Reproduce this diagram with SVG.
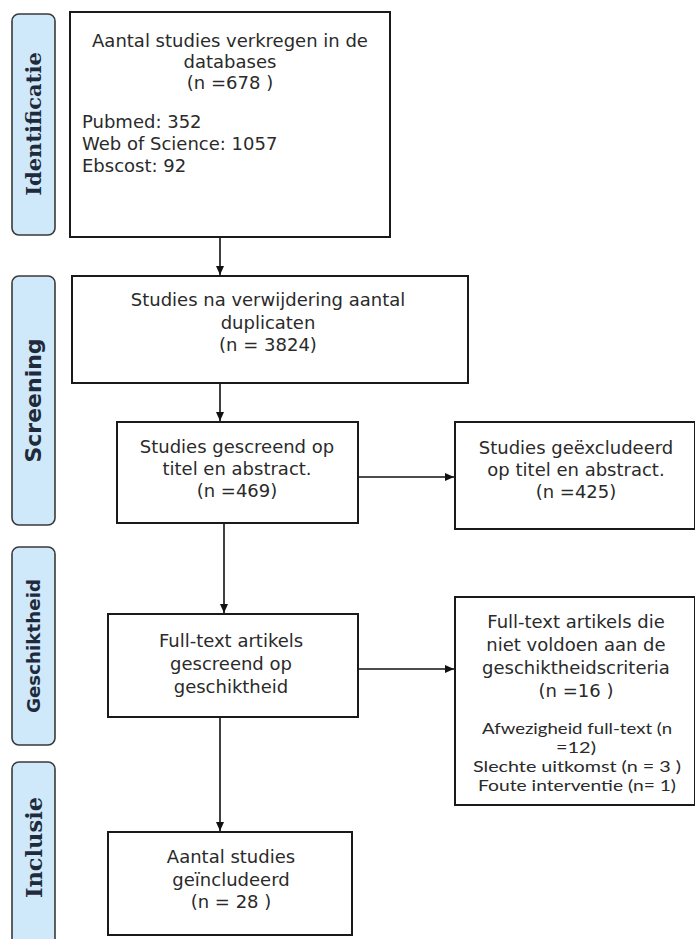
<svg xmlns="http://www.w3.org/2000/svg" width="695" height="939" viewBox="0 0 695 939">
<defs>
<marker id="ah" markerWidth="10" markerHeight="10" refX="9" refY="5" orient="auto" markerUnits="userSpaceOnUse">
<path d="M0,1 L9,5 L0,9 Z" fill="#111"/>
</marker>
<style>
.lbl{fill:#cfe8fa;stroke:#3a3a3a;stroke-width:1.6}
.box{fill:#fff;stroke:#1a1a1a;stroke-width:2}
.t{font-family:"DejaVu Sans",Verdana,sans-serif;font-size:18px;fill:#2a2a2a;text-anchor:middle}
.tl{font-family:"DejaVu Sans",Verdana,sans-serif;font-size:18px;fill:#2a2a2a}
.s{font-family:Lato,"Open Sans",sans-serif;font-size:16px;fill:#2a2a2a;text-anchor:middle}
.ser{font-family:"DejaVu Serif",serif;font-weight:bold;fill:#1f2a3a;text-anchor:middle}
.san{font-family:"DejaVu Sans",sans-serif;font-weight:bold;fill:#1f2a3a;text-anchor:middle}
.c{stroke:#111;stroke-width:1.6;fill:none;marker-end:url(#ah)}
</style>
</defs>
<rect width="695" height="939" fill="#fff"/>
<g id="lbl-identificatie">
<rect class="lbl" x="12" y="14" width="43" height="221" rx="7"/>
<text class="ser" font-size="21" transform="translate(41,124) rotate(-90)">Identificatie</text>
</g>
<g id="lbl-screening">
<rect class="lbl" x="12" y="276" width="43" height="249" rx="7"/>
<text class="san" font-size="22" transform="translate(41,400.5) rotate(-90)">Screening</text>
</g>
<g id="lbl-geschiktheid">
<rect class="lbl" x="12" y="547" width="43" height="198" rx="7"/>
<text class="san" font-size="18.3" transform="translate(39.5,646) rotate(-90)">Geschiktheid</text>
</g>
<g id="lbl-inclusie">
<rect class="lbl" x="12" y="762" width="43" height="185" rx="7"/>
<text class="ser" font-size="22.5" transform="translate(41.5,847.5) rotate(-90)">Inclusie</text>
</g>
<g id="n1">
<rect class="box" x="70" y="12" width="320" height="225"/>
<text class="t" x="230" y="47">Aantal studies verkregen in de</text>
<text class="t" x="230" y="68">databases</text>
<text class="t" x="230" y="89">(n =678 )</text>
<text class="tl" x="82" y="128">Pubmed: 352</text>
<text class="tl" x="82" y="150">Web of Science: 1057</text>
<text class="tl" x="82" y="172">Ebscost: 92</text>
</g>
<g id="n2">
<rect class="box" x="72" y="276" width="396" height="107"/>
<text class="t" x="268" y="306">Studies na verwijdering aantal</text>
<text class="t" x="268" y="329">duplicaten</text>
<text class="t" x="268" y="351">(n = 3824)</text>
</g>
<g id="n3">
<rect class="box" x="117" y="422" width="241" height="101"/>
<text class="t" x="237" y="453">Studies gescreend op</text>
<text class="t" x="237" y="475">titel en abstract.</text>
<text class="t" x="237" y="497">(n =469)</text>
</g>
<g id="n4">
<rect class="box" x="455" y="422" width="240" height="107"/>
<text class="t" x="576" y="454">Studies geëxcludeerd</text>
<text class="t" x="576" y="476">op titel en abstract.</text>
<text class="t" x="576" y="498">(n =425)</text>
</g>
<g id="n5">
<rect class="box" x="108" y="614" width="250" height="103"/>
<text class="t" x="231" y="647">Full-text artikels</text>
<text class="t" x="231" y="670">gescreend op</text>
<text class="t" x="231" y="693">geschiktheid</text>
</g>
<g id="n6">
<rect class="box" x="455" y="597" width="240" height="208"/>
<text class="t" x="576" y="628">Full-text artikels die</text>
<text class="t" x="576" y="651">niet voldoen aan de</text>
<text class="t" x="576" y="674">geschiktheidscriteria</text>
<text class="t" x="576" y="697">(n =16 )</text>
<text class="s" x="577" y="734" textLength="190" lengthAdjust="spacingAndGlyphs">Afwezigheid full-text (n</text>
<text class="s" x="576" y="753" textLength="40" lengthAdjust="spacingAndGlyphs">=12)</text>
<text class="s" x="577" y="772" textLength="208" lengthAdjust="spacingAndGlyphs">Slechte uitkomst (n = 3 )</text>
<text class="s" x="577" y="791" textLength="198" lengthAdjust="spacingAndGlyphs">Foute interventie (n= 1)</text>
</g>
<g id="n7">
<rect class="box" x="108" y="832" width="244" height="103"/>
<text class="t" x="231" y="863">Aantal studies</text>
<text class="t" x="231" y="886">geïncludeerd</text>
<text class="t" x="231" y="908">(n = 28 )</text>
</g>
<g id="connectors">
<line class="c" x1="220" y1="238" x2="220" y2="275"/>
<line class="c" x1="220" y1="384" x2="220" y2="421"/>
<line class="c" x1="224" y1="524" x2="224" y2="613"/>
<line class="c" x1="220" y1="718" x2="220" y2="831"/>
<line class="c" x1="359" y1="477" x2="454" y2="477"/>
<line class="c" x1="359" y1="669" x2="454" y2="669"/>
</g>
</svg>
